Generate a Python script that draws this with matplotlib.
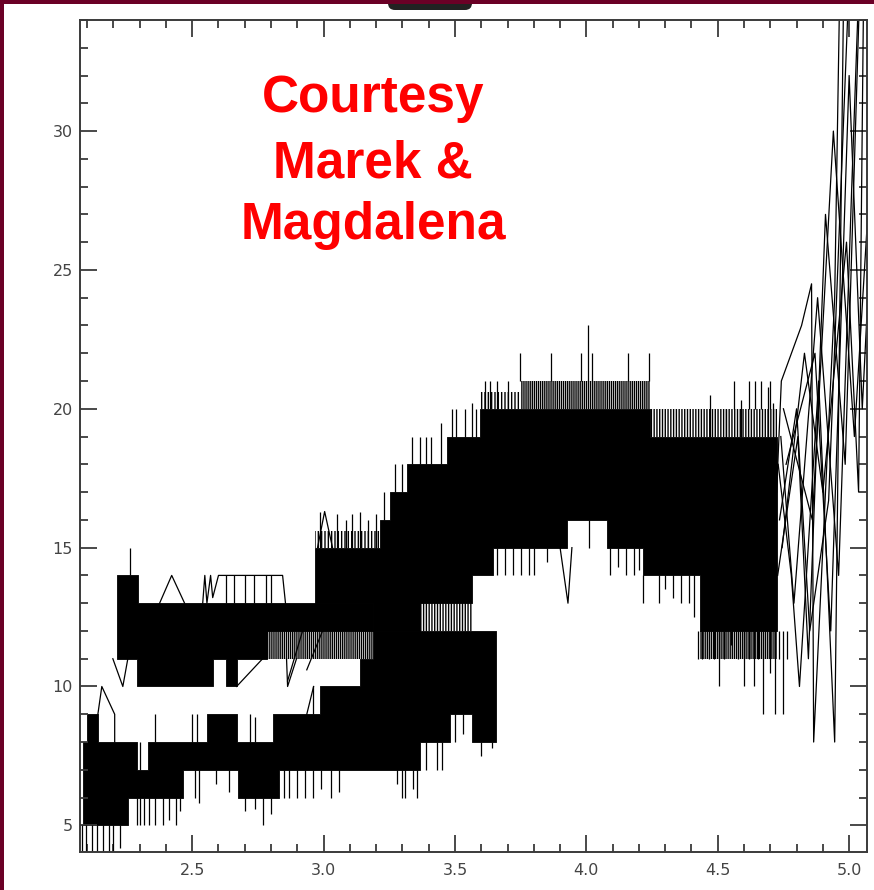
import numpy as np
import matplotlib
matplotlib.use("Agg")
import matplotlib.pyplot as plt
from matplotlib.patches import Rectangle, FancyBboxPatch
from matplotlib.ticker import MultipleLocator, FixedLocator

# ---------------------------------------------------------------- data
# Dense bundles of integer-valued traces, described by the step edges of
# their solid core (x breakpoints, level held until the next breakpoint).
low_top_x = [2.085, 2.100, 2.141, 2.289, 2.331, 2.555, 2.669, 2.806, 2.985, 3.137, 3.187, 3.658]
low_top_y = [8, 9, 8, 7, 8, 9, 8, 9, 10, 11, 12]
low_bot_x = [2.085, 2.255, 2.464, 2.673, 2.829, 3.366, 3.480, 3.563, 3.658]
low_bot_y = [5, 6, 7, 6, 7, 8, 9, 8]

mid_top_x = [2.215, 2.292, 3.187]
mid_top_y = [14, 13]
mid_bot_x = [2.215, 2.289, 2.578, 2.627, 2.669, 2.783, 3.187]
mid_bot_y = [11, 10, 11, 10, 11, 12]

high_top_x = [2.966, 3.213, 3.251, 3.316, 3.468, 3.594, 4.241, 4.724]
high_top_y = [15, 16, 17, 18, 19, 20, 19]
high_bot_x = [2.966, 3.187, 3.366, 3.563, 3.643, 3.928, 4.077, 4.214, 4.431, 4.724]
high_bot_y = [13, 12, 13, 14, 15, 16, 15, 14, 12]

# Zones where the traces only partly cover the area (x0, x1, lower, upper)
sparse_x0 = [2.783, 3.366, 3.750, 4.241, 4.431, 2.966, 3.594]
sparse_x1 = [3.187, 3.563, 4.241, 4.724, 4.724, 3.213, 3.750]
sparse_lo = [11, 12, 20, 19, 11, 15, 20]
sparse_hi = [12, 13, 21, 20, 12, 15.6, 20.6]

# Single excursions of a trace away from the bundle (x, from, to)
spike_x = [2.080, 2.095, 2.120, 2.137, 2.162, 2.185, 2.200, 2.225,
           2.289, 2.300, 2.318, 2.336, 2.360, 2.390, 2.410, 2.440, 2.455,
           2.510, 2.525, 2.590, 2.640,
           2.700, 2.740, 2.768, 2.800,
           2.850, 2.870, 2.900, 2.930, 2.960, 2.990, 3.030, 3.060, 3.280, 3.300, 3.310, 3.340, 3.355,
           3.390, 3.430, 3.450, 3.500, 3.530, 3.600, 3.640,
           2.300, 2.360, 2.500, 2.520, 2.720, 2.740, 2.960,
           2.262,
           2.630, 2.660, 2.700, 2.735, 2.780, 2.800,
           2.985, 3.050, 3.085, 3.110, 3.140, 3.170, 3.200,
           3.230, 3.270, 3.300,
           3.335, 3.365, 3.390, 3.410, 3.445,
           3.490, 3.505, 3.540, 3.565, 3.580,
           3.615, 3.635, 3.660, 3.700,
           3.748, 3.865, 3.980, 4.006, 4.020, 4.160, 4.240,
           4.560, 4.620, 4.640, 4.665, 4.700,
           3.660, 3.690, 3.720, 3.750, 3.780, 3.800, 3.850,
           4.010,
           4.090, 4.120, 4.150, 4.180, 4.200,
           4.214, 4.277, 4.300, 4.330, 4.360, 4.390, 4.410,
           4.425, 4.440, 4.468, 4.487, 4.506, 4.525, 4.552, 4.578, 4.601, 4.620,
           4.639, 4.654, 4.674, 4.697, 4.716, 4.735, 4.750, 4.765,
           4.470, 4.530, 4.590, 4.690, 4.712]
spike_from = [5, 5, 5, 5, 5, 5, 5, 5,
              6, 6, 6, 6, 6, 6, 6, 6, 6,
              7, 7, 7, 7,
              6, 6, 6, 6,
              7, 7, 7, 7, 7, 7, 7, 7, 7, 7, 7, 7, 7,
              8, 8, 8, 9, 9, 8, 8,
              7, 8, 8, 8, 8, 8, 9,
              14,
              13, 13, 13, 13, 13, 13,
              15, 15, 15, 15, 15, 15, 15,
              16, 17, 17,
              18, 18, 18, 18, 18,
              19, 19, 19, 19, 19,
              20, 20, 20, 20,
              21, 21, 21, 21, 21, 21, 21,
              20, 20, 20, 20, 20,
              15, 15, 15, 15, 15, 15, 15,
              16,
              15, 15, 15, 15, 15,
              14, 14, 14, 14, 14, 14, 14,
              12, 12, 12, 12, 12, 12, 12, 12, 12, 12,
              12, 12, 12, 12, 12, 12, 12, 12,
              19, 19, 19, 19, 19]
spike_to = [4.0, 4.0, 4.0, 4.0, 4.0, 4.0, 4.0, 4.2,
            5, 5, 5, 5, 5, 5, 5.2, 5, 5.5,
            6, 5.8, 6.5, 6.2,
            5.5, 5.6, 5, 5.4,
            6, 6, 6, 6, 6, 6.3, 6, 6.2, 6.5, 6, 6, 6.3, 6,
            7, 7, 7, 8, 8.3, 7.5, 7.8,
            8, 9, 9, 9, 9, 8.9, 10,
            15,
            14, 14, 14, 14, 14, 14,
            16.3, 16.2, 16, 16.2, 16.3, 16, 16.2,
            17, 18, 18,
            19, 19, 19, 19, 19.5,
            20, 20, 20, 20.2, 20,
            21, 21, 21, 21,
            22, 22, 22, 23, 22, 22, 22,
            21, 21, 21, 21, 21,
            14, 14, 14, 14, 14, 14, 14.5,
            15,
            14, 14.3, 14, 14, 14.2,
            13, 13, 13.5, 13.2, 13, 13, 12.5,
            11, 11, 11, 11, 10, 11, 11.5, 11, 10, 11,
            10, 11, 9, 10.5, 9, 11, 9, 11,
            20.5, 20, 20.3, 20.8, 20.2]

# Individual trace fragments that stand out from the bundles
hump_x = [2.141, 2.156, 2.205, 2.205]
hump_y = [9, 10, 9, 8]
rise_x = [2.936, 2.962]
rise_y = [9, 10]
vee1_x = [2.198, 2.236, 2.255]
vee1_y = [11, 10, 11]
slope_x = [2.669, 2.768]
slope_y = [10, 11]
vee2_x = [2.859, 2.863, 2.897]
vee2_y = [11, 10, 11]
drop1_x = [2.920, 2.863]
drop1_y = [12, 10.2]
drop2_x = [2.996, 2.936]
drop2_y = [12, 10.6]
peak_x = [2.376, 2.422, 2.471]
peak_y = [13, 14, 13]
zig_x = [2.540, 2.548, 2.556, 2.570, 2.578, 2.600, 2.616, 2.844, 2.855]
zig_y = [13, 14, 13, 14, 13.2, 14, 14, 14, 13]
bump_x = [2.977, 3.004, 3.034]
bump_y = [15, 16.3, 15]
dip_x = [3.900, 3.930, 3.945]
dip_y = [15, 13, 15]

tail1_x = [4.724, 4.742, 4.819, 4.857, 4.865, 4.945, 4.964]
tail1_y = [17, 21, 23, 24.5, 8, 24, 35]
tail2_x = [4.730, 4.780, 4.811, 4.884, 4.945, 4.979]
tail2_y = [18, 14, 10, 21, 8, 35]
tail3_x = [4.735, 4.800, 4.850, 4.922, 4.998]
tail3_y = [16, 20, 12, 16.7, 35]
tail4_x = [4.740, 4.790, 4.880, 4.960, 5.010, 5.036]
tail4_y = [19, 13, 24, 14, 28, 35]
tail5_x = [4.745, 4.830, 4.900, 4.990, 5.036, 5.055]
tail5_y = [15, 22, 17, 26, 17, 35]
tail6_x = [4.750, 4.860, 4.940, 5.020, 5.071]
tail6_y = [20, 16, 30, 19, 27]
tail7_x = [4.760, 4.870, 4.930, 5.000, 5.050, 5.071]
tail7_y = [18, 22, 12, 32, 20, 24]
tail8_x = [4.728, 4.805, 4.845, 4.910, 4.985, 5.040]
tail8_y = [14, 19, 11, 27, 18, 35]

x_ticks = [2.5, 3.0, 3.5, 4.0, 4.5, 5.0]
x_tick_labels = ["2.5", "3.0", "3.5", "4.0", "4.5", "5.0"]
y_ticks = [5, 10, 15, 20, 25, 30]
y_tick_labels = ["5", "10", "15", "20", "25", "30"]

credit_lines = ["Courtesy", "Marek &", "Magdalena"]

# ---------------------------------------------------------------- figure
W, H = 874, 890
fig = plt.figure(figsize=(W / 100, H / 100), dpi=100)
fig.patch.set_facecolor("white")
plt.rcParams["hatch.linewidth"] = 1.0

ax = fig.add_axes([80 / W, 1 - 852 / H, (867 - 80) / W, (852 - 20) / H])
ax.set_xlim(2.073, 5.068)
ax.set_ylim(4.04, 34.0)


def level_at(ex, ey, x):
    i = np.searchsorted(ex, x, side="right") - 1
    i = np.clip(i, 0, len(ey) - 1)
    return np.asarray(ey, dtype=float)[i]


def step_band(top_x, top_y, bot_x, bot_y):
    lo_edge = max(top_x[0], bot_x[0])
    hi_edge = min(top_x[-1], bot_x[-1])
    edges = np.union1d(top_x, bot_x)
    edges = edges[(edges >= lo_edge) & (edges <= hi_edge)]
    left = edges[:-1]
    top = level_at(top_x, top_y, left)
    bot = level_at(bot_x, bot_y, left)
    xs = np.repeat(edges, 2)[1:-1]
    ax.fill_between(xs, np.repeat(bot, 2), np.repeat(top, 2),
                    color="black", lw=0.6, edgecolor="black")


step_band(low_top_x, low_top_y, low_bot_x, low_bot_y)
step_band(mid_top_x, mid_top_y, mid_bot_x, mid_bot_y)
step_band(high_top_x, high_top_y, high_bot_x, high_bot_y)

hatch_styles = ["||||||||", "||||||", "||||||||", "||||||", "||||||||", "|||||", "|||||"]
for x0, x1, lo, hi, hs in zip(sparse_x0, sparse_x1, sparse_lo, sparse_hi, hatch_styles):
    ax.fill_between([x0, x1], [lo, lo], [hi, hi], facecolor="none",
                    edgecolor="black", hatch=hs, linewidth=0)

ax.vlines(spike_x, spike_from, spike_to, color="black", lw=0.9)

line_kw = dict(color="black", lw=0.9)
for xs, ys in [(hump_x, hump_y), (rise_x, rise_y), (vee1_x, vee1_y),
               (slope_x, slope_y), (vee2_x, vee2_y), (drop1_x, drop1_y),
               (drop2_x, drop2_y), (peak_x, peak_y), (zig_x, zig_y),
               (bump_x, bump_y), (dip_x, dip_y),
               (tail1_x, tail1_y), (tail2_x, tail2_y), (tail3_x, tail3_y),
               (tail4_x, tail4_y), (tail5_x, tail5_y), (tail6_x, tail6_y),
               (tail7_x, tail7_y), (tail8_x, tail8_y)]:
    ax.plot(xs, ys, **line_kw)

# axes styling: ticks inward on all four sides
for sp in ax.spines.values():
    sp.set_color("#3a3a3a")
    sp.set_linewidth(1.4)
ax.xaxis.set_major_locator(FixedLocator(x_ticks))
ax.set_xticklabels(x_tick_labels)
ax.yaxis.set_major_locator(FixedLocator(y_ticks))
ax.set_yticklabels(y_tick_labels)
ax.xaxis.set_minor_locator(MultipleLocator(0.1))
ax.yaxis.set_minor_locator(MultipleLocator(1))
ax.tick_params(which="both", direction="in", top=True, right=True,
               color="#3a3a3a", width=1.3)
ax.tick_params(which="major", length=12.5, labelsize=11.5,
               labelcolor="#444444")
ax.tick_params(which="minor", length=6)
ax.tick_params(axis="x", which="major", pad=8)
ax.tick_params(axis="y", which="major", pad=5)

# credit text
for txt, base in zip(credit_lines, [112, 177, 239]):
    fig.text(373 / W, 1 - base / H, txt, ha="center", va="baseline",
             color="#ff0000", fontsize=37, fontweight="bold",
             family="Liberation Sans")

# page frame: dark tab and maroon edges
tab = FancyBboxPatch((388 / W, 1 - 10 / H), 84 / W, 14 / H,
                     boxstyle="round,pad=0,rounding_size=0.008",
                     mutation_aspect=W / H, transform=fig.transFigure,
                     facecolor="#222222", edgecolor="none")
fig.patches.append(tab)
fig.patches.append(Rectangle((0, 1 - 3.5 / H), 1, 3.5 / H,
                             transform=fig.transFigure,
                             facecolor="#6b0026", edgecolor="none"))
fig.patches.append(Rectangle((0, 0), 4 / W, 1, transform=fig.transFigure,
                             facecolor="#6b0026", edgecolor="none"))

fig.savefig("out.png", dpi=100, facecolor="white")
